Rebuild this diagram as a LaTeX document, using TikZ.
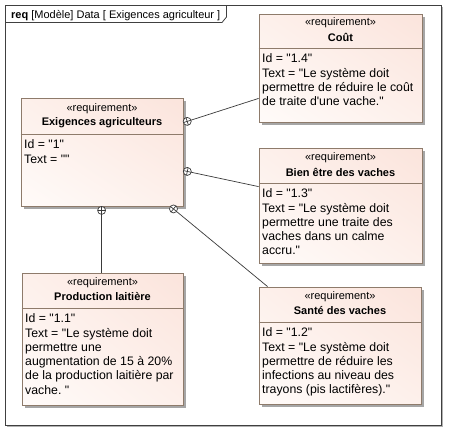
\documentclass[tikz,border=0pt]{standalone}
\usepackage{fontspec}
\newfontfamily\uif{Liberation Sans}
\usetikzlibrary{calc,shadows,shadings}
\definecolor{bordc}{HTML}{8E7B6B}
\definecolor{connc}{HTML}{3A3A3A}
\definecolor{ful}{HTML}{FDF0EB}
\definecolor{fur}{HTML}{FBE4DC}
\definecolor{fll}{HTML}{FFFBF9}
\definecolor{flr}{HTML}{FDF0EB}
\tikzset{
  reqnode/.style={draw=bordc, line width=0.8pt, inner sep=0pt,
    upper left=ful, upper right=fur, lower left=fll, lower right=flr,
    drop shadow={shadow xshift=2.5pt, shadow yshift=-2.5pt, fill=black!35, opacity=1}},
  stereo/.style={font=\uif\fontsize{11}{13}\selectfont, inner sep=0pt},
  titlef/.style={font=\uif\bfseries\fontsize{11}{13}\selectfont, inner sep=0pt},
  bodyf/.style={font=\uif\fontsize{12.3}{14.3}\selectfont, inner sep=0pt, align=left, anchor=north west},
  conn/.style={draw=connc, line width=0.7pt},
  framec/.style={draw=black!75, line width=1pt}
}
\newcommand{\reqbox}[7]{%
  \node[reqnode, minimum width={(#4-#2)*1pt}, minimum height={(#5-#3)*1pt}] (#1) at ({(#2+#4)/2},{(#3+#5)/2}) {};
  \draw[bordc, line width=0.8pt] (#1.west |- 0,#6) -- (#1.east |- 0,#6);
  \node[stereo] (#1-st) at ({(#2+#4)/2},#6-25) {«requirement»};
  \node[titlef] (#1-ti) at ({(#2+#4)/2},#6-11) {#7};
}
\newcommand{\contain}[2]{%
  \coordinate (cc) at ($(#1)!4pt!(#2)$);
  \draw[conn, fill=white] (cc) circle[radius=4pt];
  \draw[conn] ($(cc)!4pt!(#2)$) -- ($(cc)!-4pt!(#2)$);
  \draw[conn] ($(cc)!4pt!90:(#2)$) -- ($(cc)!4pt!-90:(#2)$);
  \draw[conn] ($(cc)!4pt!(#2)$) -- (#2);
}
\begin{document}
\begin{tikzpicture}[x=1pt,y=-1pt]
\useasboundingbox (0,0) rectangle (456,440);
\fill[white] (0,0) rectangle (456,440);
% frame
\fill[black!30] (7,7) rectangle (442.5,426.5);
\draw[framec, fill=white] (5,5) rectangle (441,425);
\draw[black!75, line width=0.8pt] (5,22.5) -- (222,22.5) -- (226.5,17) -- (226.5,5);
\node[anchor=base west, inner sep=0pt, font=\uif\fontsize{11}{13}\selectfont] (hdr) at (11,18) {\textbf{req} [Modèle] Data [ Exigences agriculteur ]};
% boxes
\reqbox{exig}{21}{98}{183}{206}{134}{Exigences agriculteurs}
\node[bodyf] (exig-body) at (24,138.5) {\rule{0pt}{10pt}Id = "1"\\Text = ""};
\reqbox{cout}{259}{14}{422}{122}{48}{Coût}
\node[bodyf] (cout-body) at (262,52.5) {\rule{0pt}{10pt}Id = "1.4"\\Text = "Le système doit\\permettre de réduire le coût\\de traite d'une vache."};
\reqbox{bien}{259}{148}{422}{263}{183}{Bien être des vaches}
\node[bodyf] (bien-body) at (262,187.5) {\rule{0pt}{10pt}Id = "1.3"\\Text = "Le système doit\\permettre une traite des\\vaches dans un calme\\accru."};
\reqbox{prod}{22}{273}{183}{405}{308}{Production laitière}
\node[bodyf] (prod-body) at (25,312.5) {\rule{0pt}{10pt}Id = "1.1"\\Text = "Le système doit\\permettre une\\augmentation de 15 à 20\%\\de la production laitière par\\vache.\ "};
\reqbox{sante}{259}{287}{421}{404}{322}{Santé des vaches}
\node[bodyf] (sante-body) at (262,326.5) {\rule{0pt}{10pt}Id = "1.2"\\Text = "Le système doit\\permettre de réduire les\\infections au niveau des\\trayons (pis lactifères)."};
% connector end points
\coordinate (p1) at ($(exig.north east)+(0,25)$);
\coordinate (q1) at ($(cout.south west)+(0,-24)$);
\coordinate (p2) at ($(exig.north east)+(0,73)$);
\coordinate (q2) at ($(bien.north west)+(0,39)$);
\coordinate (p3) at ($(exig.south east)+(-13,0)$);
\coordinate (q3) at ($(sante.north west)+(9,0)$);
\coordinate (p4) at ($(exig.south west)+(81,0)$);
\coordinate (q4) at ($(prod.north west)+(80,0)$);
\contain{p1}{q1}
\contain{p2}{q2}
\contain{p3}{q3}
\contain{p4}{q4}
\end{tikzpicture}
\end{document}
